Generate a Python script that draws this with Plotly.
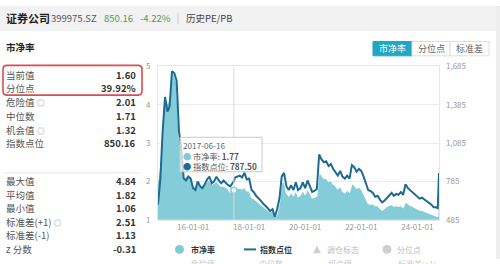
import plotly.graph_objects as go

# ---------------- data ----------------
dates = [
    "2014-10-01", "2014-11-01", "2014-12-01",
    "2015-01-01", "2015-02-01", "2015-03-01", "2015-04-01", "2015-05-01", "2015-06-01",
    "2015-07-01", "2015-08-01", "2015-09-01", "2015-10-01", "2015-11-01", "2015-12-01",
    "2016-01-01", "2016-02-01", "2016-03-01", "2016-04-01", "2016-05-01", "2016-06-01",
    "2016-07-01", "2016-08-01", "2016-09-01", "2016-10-01", "2016-11-01", "2016-12-01",
    "2017-01-01", "2017-02-01", "2017-03-01", "2017-04-01", "2017-05-01", "2017-06-16",
    "2017-07-01", "2017-08-01", "2017-09-01", "2017-10-01", "2017-11-01", "2017-12-01",
    "2018-01-01", "2018-02-01", "2018-03-01", "2018-04-01", "2018-05-01", "2018-06-01",
    "2018-07-01", "2018-08-01", "2018-09-01", "2018-10-01", "2018-11-01", "2018-12-01",
    "2019-01-01", "2019-02-01", "2019-03-01", "2019-04-01", "2019-05-01", "2019-06-01",
    "2019-07-01", "2019-08-01", "2019-09-01", "2019-10-01", "2019-11-01", "2019-12-01",
    "2020-01-01", "2020-02-01", "2020-03-01", "2020-04-01", "2020-05-01", "2020-06-01",
    "2020-07-01", "2020-08-01", "2020-09-01", "2020-10-01", "2020-11-01", "2020-12-01",
    "2021-01-01", "2021-02-01", "2021-03-01", "2021-04-01", "2021-05-01", "2021-06-01",
    "2021-07-01", "2021-08-01", "2021-09-01", "2021-10-01", "2021-11-01", "2021-12-01",
    "2022-01-01", "2022-02-01", "2022-03-01", "2022-04-01", "2022-05-01", "2022-06-01",
    "2022-07-01", "2022-08-01", "2022-09-01", "2022-10-01", "2022-11-01", "2022-12-01",
    "2023-01-01", "2023-02-01", "2023-03-01", "2023-04-01", "2023-05-01", "2023-06-01",
    "2023-07-01", "2023-08-01", "2023-09-01", "2023-10-01", "2023-11-01", "2023-12-01",
    "2024-01-01", "2024-02-01", "2024-03-01", "2024-04-01", "2024-05-01", "2024-06-01",
    "2024-07-01", "2024-08-01", "2024-09-01", "2024-09-24", "2024-10-10",
]
index_pts = [
    605, 807, 1182,
    1445, 1332, 1370, 1647, 1632, 1572,
    1182, 1032, 807, 792, 822, 807,
    732, 717, 785, 747, 732, 762,
    800, 822, 770, 785, 822, 792,
    770, 792, 777, 755, 747, 787.50,
    815, 822, 830, 815, 852, 800,
    807, 717, 702, 672, 657, 635,
    612, 597, 575, 552, 567, 507,
    567, 657, 822, 852, 747, 717,
    755, 717, 777, 717, 732, 777,
    732, 792, 755, 702, 710, 725,
    995, 957, 935, 942, 905, 920,
    882, 852, 830, 867, 822, 807,
    830, 807, 912, 897, 860, 882,
    867, 822, 770, 717, 710, 695,
    665, 672, 642, 620, 635, 657,
    680, 695, 672, 687, 680, 702,
    680, 762, 732, 717, 702, 687,
    665, 650, 657, 642, 635, 620,
    605, 582, 582, 575, 850.16,
]
pb = [
    2.02, 2.58, 3.83,
    4.38, 4.03, 4.13, 4.84, 4.78, 4.58,
    3.20, 2.70, 2.08, 2.13, 2.20, 2.13,
    1.88, 1.85, 1.98, 1.90, 1.85, 1.92,
    2.00, 2.05, 1.92, 1.95, 2.02, 1.93,
    1.87, 1.88, 1.84, 1.80, 1.72, 1.77,
    1.83, 1.82, 1.83, 1.80, 1.85, 1.75,
    1.76, 1.58, 1.55, 1.50, 1.47, 1.40,
    1.35, 1.30, 1.25, 1.20, 1.22, 1.06,
    1.15, 1.45, 1.95, 2.02, 1.70, 1.62,
    1.72, 1.62, 1.77, 1.60, 1.65, 1.77,
    1.65, 1.80, 1.70, 1.57, 1.58, 1.62,
    2.25, 2.15, 2.08, 2.08, 2.00, 2.03,
    1.93, 1.88, 1.80, 1.88, 1.75, 1.70,
    1.78, 1.72, 1.95, 1.90, 1.82, 1.85,
    1.80, 1.68, 1.57, 1.42, 1.40, 1.42,
    1.37, 1.37, 1.30, 1.25, 1.30, 1.35,
    1.37, 1.40, 1.35, 1.37, 1.35, 1.37,
    1.32, 1.47, 1.42, 1.37, 1.35, 1.32,
    1.28, 1.25, 1.25, 1.22, 1.20, 1.17,
    1.15, 1.12, 1.10, 1.08, 1.60,
]

x_tick_dates = ["2016-01-01", "2018-01-01", "2020-01-01", "2022-01-01", "2024-01-01"]
x_tick_text = ["16-01-01", "18-01-01", "20-01-01", "22-01-01", "24-01-01"]
left_ticks = [1, 2, 3, 4, 5]
right_ticks = [485, 785, 1085, 1385, 1685]

tip_date = "2017-06-16"
tip_pb = 1.77
tip_index = 787.50

stats_top_labels = ["当前值", "分位点", "危险值", "中位数", "机会值", "指数点位"]
stats_top_values = ["1.60", "39.92%", "2.01", "1.71", "1.32", "850.16"]
stats_bot_labels = ["最大值", "平均值", "最小值", "标准差(+1)", "标准差(-1)", "z 分数"]
stats_bot_values = ["4.84", "1.82", "1.06", "2.51", "1.13", "-0.31"]

TEAL = "#84cdd8"
TEAL_LEG = "#7ecbd6"
DARK = "#1d6a93"
FONT = "Noto Sans CJK SC"

W, H = 500, 264


def px(x):
    return x / W


def py(y):
    return 1 - y / H


fig = go.Figure()

fig.add_trace(go.Scatter(
    x=dates, y=pb, name="市净率", mode="lines",
    line=dict(color="rgba(255,255,255,0.95)", width=1.2),
    fill="tozeroy", fillcolor=TEAL, yaxis="y", hoverinfo="skip",
))
fig.add_trace(go.Scatter(
    x=dates, y=index_pts, name="指数点位", mode="lines",
    line=dict(color=DARK, width=2), yaxis="y2", hoverinfo="skip",
))
fig.add_trace(go.Scatter(
    x=[tip_date], y=[tip_pb], mode="markers", yaxis="y",
    marker=dict(size=6, color="white", line=dict(color=TEAL, width=1.5)),
    hoverinfo="skip",
))

x0p, x1p = 158, 439
y0p, y1p = 63, 223

fig.update_layout(
    width=W, height=H,
    margin=dict(l=0, r=0, t=0, b=0),
    paper_bgcolor="white", plot_bgcolor="white",
    showlegend=False,
    font=dict(family=FONT, size=9, color="#333"),
    xaxis=dict(
        domain=[px(x0p), px(x1p)], type="date",
        range=["2014-10-01", "2024-10-10"],
        tickvals=x_tick_dates, ticktext=x_tick_text,
        showgrid=False, showline=True, linecolor="#e6e6e6", mirror=True,
        ticks="", tickfont=dict(size=8, color="#999"), zeroline=False,
    ),
    yaxis=dict(
        domain=[py(y1p), py(y0p)], range=[1, 5], tickvals=left_ticks,
        showgrid=True, gridcolor="#ececec", gridwidth=1,
        showline=True, linecolor="#e6e6e6", mirror=True,
        ticks="", tickfont=dict(size=8, color="#999"), zeroline=False,
        ticklabelstandoff=5,
    ),
    yaxis2=dict(
        overlaying="y", side="right", range=[485, 1685], tickvals=right_ticks,
        tickformat=",", showgrid=False, showline=False, ticks="",
        tickfont=dict(size=8, color="#999"), zeroline=False,
        ticklabelstandoff=6,
    ),
)

shapes = []
shapes.append(dict(type="rect", xref="paper", yref="paper", x0=0, x1=1,
                   y0=py(26), y1=1, fillcolor="#f2f2f2", line=dict(width=0), layer="below"))
shapes.append(dict(type="rect", xref="paper", yref="paper", x0=px(496), x1=1,
                   y0=0, y1=1, fillcolor="#eeeeee", line=dict(width=0), layer="below"))
shapes.append(dict(type="line", xref="paper", yref="paper", x0=px(178), x1=px(178),
                   y0=py(7), y1=py(19), line=dict(color="#cccccc", width=1)))
shapes.append(dict(type="line", xref="paper", yref="paper", x0=px(4), x1=px(140),
                   y0=py(174), y1=py(174), line=dict(color="#eeeeee", width=1.5)))


def rounded_rect(xa, ya, xb, yb, r):
    def P(x, y):
        return f"{px(x):.5f},{py(y):.5f}"
    return (f"M {P(xa + r, ya)} L {P(xb - r, ya)} Q {P(xb, ya)} {P(xb, ya + r)} "
            f"L {P(xb, yb - r)} Q {P(xb, yb)} {P(xb - r, yb)} "
            f"L {P(xa + r, yb)} Q {P(xa, yb)} {P(xa, yb - r)} "
            f"L {P(xa, ya + r)} Q {P(xa, ya)} {P(xa + r, ya)} Z")


shapes.append(dict(type="path", xref="paper", yref="paper",
                   path=rounded_rect(3, 62, 142, 93, 4),
                   line=dict(color="#e04a50", width=1.6)))

btns = [("市净率", 373, 412, True), ("分位点", 412, 450, False), ("标准差", 450, 489, False)]
for label, bx0, bx1, active in btns:
    shapes.append(dict(type="rect", xref="paper", yref="paper", x0=px(bx0), x1=px(bx1),
                       y0=py(52), y1=py(37),
                       fillcolor="#21a6c4" if active else "white",
                       line=dict(color="#21a6c4" if active else "#dddddd", width=1)))

shapes.append(dict(type="line", xref="x", yref="paper", x0=tip_date, x1=tip_date,
                   y0=py(y1p), y1=py(y0p), line=dict(color="#dcdcdc", width=1)))

shapes.append(dict(type="rect", xref="paper", yref="paper", x0=px(180), x1=px(262),
                   y0=py(173), y1=py(137), fillcolor="rgba(255,255,255,0.72)",
                   line=dict(color="#c8c8c8", width=1)))

shapes.append(dict(type="circle", xref="paper", yref="paper", x0=px(175), x1=px(184),
                   y0=py(258.5), y1=py(249.5), fillcolor=TEAL_LEG, line=dict(width=0)))
shapes.append(dict(type="line", xref="paper", yref="paper", x0=px(244), x1=px(256),
                   y0=py(254), y1=py(254), line=dict(color=DARK, width=2)))
shapes.append(dict(type="path", xref="paper", yref="paper",
                   path=f"M {px(313)},{py(258)} L {px(321)},{py(258)} L {px(317)},{py(250)} Z",
                   fillcolor="#cfcfcf", line=dict(width=0)))
shapes.append(dict(type="circle", xref="paper", yref="paper", x0=px(382.5), x1=px(391.5),
                   y0=py(258.5), y1=py(249.5), fillcolor="#cfcfcf", line=dict(width=0)))

fig.update_layout(shapes=shapes)

ann = []


def text(x, y, s, size=10, color="#333", anchor="left", bold=False, align="left"):
    if bold:
        s = f"<b>{s}</b>"
    ann.append(dict(xref="paper", yref="paper", x=px(x), y=py(y), text=s,
                    showarrow=False, xanchor=anchor, yanchor="middle", align=align,
                    borderpad=0,
                    font=dict(family=FONT, size=size, color=color)))


text(5, 13, "证券公司", size=11, color="#222", bold=True)
text(50, 13, "399975.SZ", size=9.5, color="#555")
text(103, 13, "850.16", size=9.5, color="#4e9b62")
text(139, 13, "-4.22%", size=9.5, color="#4e9b62")
text(185, 13, "历史PE/PB", size=9.5, color="#444")

text(5, 43, "市净率", size=9.5, color="#222", bold=True)

for label, bx0, bx1, active in btns:
    text((bx0 + bx1) / 2, 44.5, label, size=9, color="white" if active else "#666", anchor="center")

top_y = [72, 86, 100.5, 115, 129, 143]
for lab, val, yy in zip(stats_top_labels, stats_top_values, top_y):
    if lab in ("危险值", "机会值"):
        lab = lab + " <span style='color:#aaa;font-size:8px'>◎</span>"
    text(5, yy, lab, size=9.5, color="#555")
    text(137, yy, val, size=9.5, color="#333", anchor="right", bold=True)

bot_y = [183, 197, 211, 225, 239, 254]
for lab, val, yy in zip(stats_bot_labels, stats_bot_values, bot_y):
    if lab == "标准差(+1)":
        lab = lab + " <span style='color:#aaa;font-size:8px'>◎</span>"
    text(5, yy, lab, size=9.5, color="#555")
    text(137, yy, val, size=9.5, color="#333", anchor="right", bold=True)

tip_text = (f"<span style='color:#666'>{tip_date}</span><br>"
            f"<span style='color:{TEAL_LEG}'>●</span> 市净率: <b>{tip_pb:.2f}</b><br>"
            f"<span style='color:{DARK}'>●</span> 指数点位: <b>{tip_index:.2f}</b>")
text(182, 156, tip_text, size=8.2, color="#555")

text(190, 254, "市净率", size=8, color="#333", bold=True)
text(259, 254, "指数点位", size=8, color="#333", bold=True)
text(326, 254, "调仓标志", size=8, color="#bbbbbb")
text(396, 254, "分位点", size=8, color="#bbbbbb")

text(190, 269, "危险值", size=8, color="#cccccc")
text(258, 269, "中位数", size=8, color="#cccccc")
text(327, 269, "机会值", size=8, color="#cccccc")
text(397, 269, "标准差(+1)", size=8, color="#cccccc")

fig.update_layout(annotations=ann)

fig.write_html("out.html")
